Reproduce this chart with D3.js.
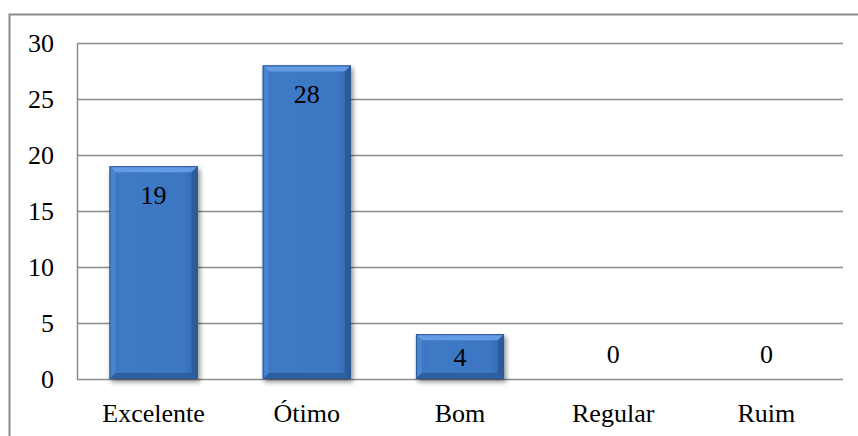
<!DOCTYPE html>
<html>
<head>
<meta charset="utf-8">
<script src="https://cdn.jsdelivr.net/npm/d3@7"></script>
</head>
<body style="margin:0">
<svg id="grafico" width="858" height="436"></svg>
<script>
// Avaliação: número de respostas por conceito
const categories = ["Excelente", "Ótimo", "Bom", "Regular", "Ruim"];
const values = [19, 28, 4, 0, 0];
const yTicks = [0, 5, 10, 15, 20, 25, 30];

const svg = d3.select("#grafico");
const plot = { left: 77, right: 843, top: 43, bottom: 379 };
const fontFamily = '"Liberation Serif", "Times New Roman", Tinos';

function styleText(sel) {
  return sel.style("font-family", () => fontFamily)
    .style("font-size", "26px");
}

// Outer chart frame
svg.append("rect")
  .attr("x", 9.5).attr("y", 14.5)
  .attr("width", 860).attr("height", 440)
  .attr("fill", "#fff")
  .attr("stroke", "#8c8c8c").attr("stroke-width", 2);

const x = d3.scaleBand()
  .domain(categories)
  .range([plot.left, plot.right])
  .paddingInner(0.425)
  .paddingOuter(0.2125);

const y = d3.scaleLinear()
  .domain([0, 30])
  .range([plot.bottom, plot.top]);

// Gridlines
svg.append("g")
  .selectAll("line")
  .data(yTicks)
  .join("line")
  .attr("x1", plot.left).attr("x2", plot.right)
  .attr("y1", d => Math.round(y(d)) + 0.5)
  .attr("y2", d => Math.round(y(d)) + 0.5)
  .attr("stroke", "#8c8c8c").attr("stroke-width", 1.5);

// Left axis line
svg.append("line")
  .attr("x1", plot.left + 0.5).attr("x2", plot.left + 0.5)
  .attr("y1", plot.top).attr("y2", plot.bottom + 1)
  .attr("stroke", "#8c8c8c").attr("stroke-width", 1.5);

// Bar styling: gradient face, bevel edges, soft shadow
const defs = svg.append("defs");
const grad = defs.append("linearGradient")
  .attr("id", "barFace").attr("x1", 0).attr("x2", 1).attr("y1", 0).attr("y2", 0);
grad.append("stop").attr("offset", "0%").attr("stop-color", "#3a72bd");
grad.append("stop").attr("offset", "15%").attr("stop-color", "#3f7ac6");
grad.append("stop").attr("offset", "85%").attr("stop-color", "#3c76c2");
grad.append("stop").attr("offset", "100%").attr("stop-color", "#3465a8");

const shadow = defs.append("filter").attr("id", "barShadow")
  .attr("x", "-20%").attr("y", "-20%").attr("width", "150%").attr("height", "150%");
shadow.append("feGaussianBlur").attr("in", "SourceAlpha").attr("stdDeviation", 2.5).attr("result", "b");
shadow.append("feOffset").attr("in", "b").attr("dx", 2).attr("dy", 3).attr("result", "o");
shadow.append("feComponentTransfer").attr("in", "o").attr("result", "s")
  .append("feFuncA").attr("type", "linear").attr("slope", 0.45);
const merge = shadow.append("feMerge");
merge.append("feMergeNode").attr("in", "s");
merge.append("feMergeNode").attr("in", "SourceGraphic");

const data = categories.map((c, i) => ({ c, v: values[i] }));
const bev = 6;

const bars = svg.append("g")
  .selectAll("g")
  .data(data.filter(d => d.v > 0))
  .join("g")
  .attr("filter", "url(#barShadow)");

bars.each(function (d) {
  const g = d3.select(this);
  const x0 = x(d.c), x1 = x0 + x.bandwidth();
  const y0 = y(d.v), y1 = y(0);
  const b = Math.min(bev, (y1 - y0) / 3);
  g.append("rect")
    .attr("x", x0).attr("y", y0)
    .attr("width", x1 - x0).attr("height", y1 - y0)
    .attr("fill", "url(#barFace)");
  // top bevel
  g.append("polygon")
    .attr("points", [[x0, y0], [x1, y0], [x1 - b, y0 + b], [x0 + b, y0 + b]].join(" "))
    .attr("fill", "#649ce4");
  // left bevel
  g.append("polygon")
    .attr("points", [[x0, y0], [x0 + b, y0 + b], [x0 + b, y1 - b], [x0, y1]].join(" "))
    .attr("fill", "#4a84cf");
  // right bevel
  g.append("polygon")
    .attr("points", [[x1, y0], [x1 - b, y0 + b], [x1 - b, y1 - b], [x1, y1]].join(" "))
    .attr("fill", "#2d5a97");
  // bottom bevel
  g.append("polygon")
    .attr("points", [[x0, y1], [x0 + b, y1 - b], [x1 - b, y1 - b], [x1, y1]].join(" "))
    .attr("fill", "#2f5f9f");
  g.append("rect")
    .attr("x", x0 + 0.5).attr("y", y0 + 0.5)
    .attr("width", x1 - x0 - 1).attr("height", y1 - y0 - 1)
    .attr("fill", "none").attr("stroke", "#2c5a95").attr("stroke-width", 1);
});

// All text drawn directly on the root svg
// Y tick labels
svg.selectAll("text.ytick")
  .data(yTicks)
  .join("text")
  .attr("class", "ytick")
  .attr("x", 54)
  .attr("y", d => y(d) + 9)
  .attr("text-anchor", "end")
  .call(styleText)
  .text(d => d);

// X category labels
svg.selectAll("text.xcat")
  .data(categories)
  .join("text")
  .attr("class", "xcat")
  .attr("x", d => x(d) + x.bandwidth() / 2)
  .attr("y", 422)
  .attr("text-anchor", "middle")
  .call(styleText)
  .text(d => d);

// Value labels: inside bar near top, or above the baseline for zero values
svg.selectAll("text.val")
  .data(data)
  .join("text")
  .attr("class", "val")
  .attr("x", d => x(d.c) + x.bandwidth() / 2)
  .attr("y", d => (d.v > 0 ? Math.min(y(d.v) + 29, (y(d.v) + y(0)) / 2) : y(0) - 25) + 9)
  .attr("text-anchor", "middle")
  .call(styleText)
  .text(d => d.v);
</script>
</body>
</html>
